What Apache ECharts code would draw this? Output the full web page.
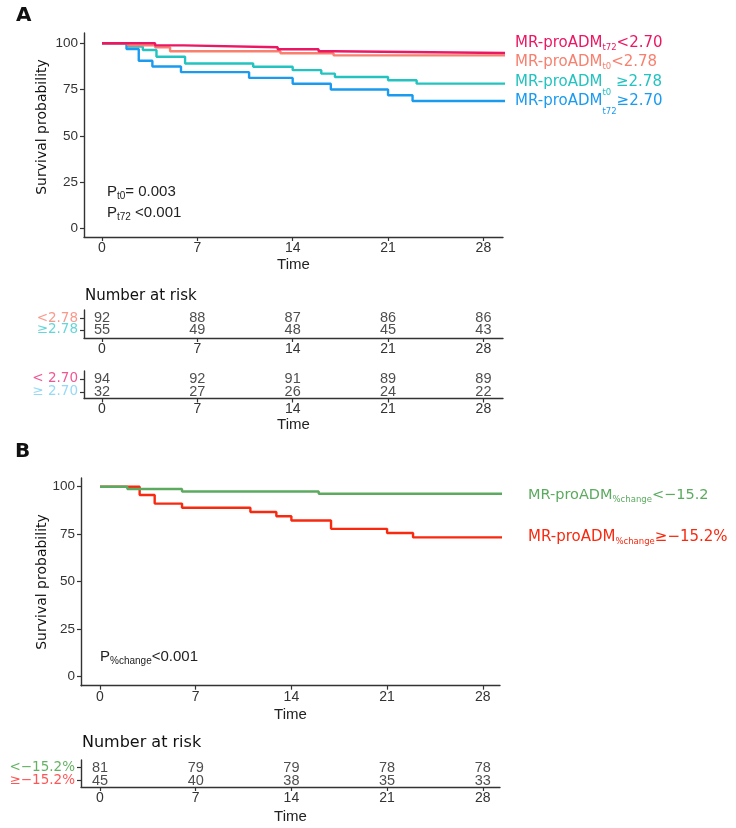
<!DOCTYPE html>
<html>
<head>
<meta charset="utf-8">
<script src="https://cdn.jsdelivr.net/npm/echarts@6/dist/echarts.min.js"></script>
<style>
  html, body { margin: 0; padding: 0; background: #fff; }
  #main { width: 736px; height: 828px; }
</style>
</head>
<body>
<div id="main"></div>
<script>
var dayTicks = [0, 7, 14, 21, 28];
var survTicks = [0, 25, 50, 75, 100];

// panel A: Kaplan-Meier steps (day, survival %)
var t72LowTime = [0, 3.9, 6.0, 12.9, 15.9, 17.0, 29.9];
var t72LowSurv = [100, 98.9, 97.9, 96.8, 95.7, 94.7, 94.7];
var t0LowTime = [0, 1.9, 3.9, 5.0, 13.1, 17.0, 29.9];
var t0LowSurv = [100, 98.9, 97.8, 95.7, 94.6, 93.5, 93.5];
var t0HighTime = [0, 1.9, 3.0, 4.0, 6.1, 11.1, 14.0, 16.1, 17.1, 21.0, 23.1, 29.9];
var t0HighSurv = [100, 98.2, 96.4, 92.7, 89.1, 87.3, 85.5, 83.6, 81.8, 80.0, 78.2, 78.2];
var t72HighTime = [0, 1.8, 2.7, 3.7, 5.8, 10.8, 14.0, 16.8, 21.0, 22.8, 29.8];
var t72HighSurv = [100, 96.9, 90.6, 87.5, 84.4, 81.3, 78.1, 75.0, 71.9, 68.8, 68.8];

// panel B
var pcLowTime = [0, 2.0, 6.0, 16.0, 30.9];
var pcLowSurv = [100, 98.8, 97.5, 96.3, 96.3];
var pcHighTime = [0, 2.9, 4.0, 6.0, 11.0, 12.9, 14.0, 16.9, 21.0, 22.9, 30.9];
var pcHighSurv = [100, 95.6, 91.1, 88.9, 86.7, 84.4, 82.2, 77.8, 75.6, 73.3, 73.3];

// number at risk
var riskT0Low = [92, 88, 87, 86, 86];
var riskT0High = [55, 49, 48, 45, 43];
var riskT72Low = [94, 92, 91, 89, 89];
var riskT72High = [32, 27, 26, 24, 22];
var riskPcLow = [81, 79, 79, 78, 78];
var riskPcHigh = [45, 40, 38, 35, 33];

var C = {
  t72Low: '#EC1763',
  t0Low: '#F8806F',
  t0High: '#22C3C0',
  t72High: '#1A9BF0',
  pcLow: '#5BAA5F',
  pcHigh: '#F8290F'
};

var chart = echarts.init(document.getElementById('main'));

function pairs(xs, ys) {
  return xs.map(function (x, i) { return [x, ys[i]]; });
}

function curve(name, xs, ys, color, grid) {
  return {
    name: name, type: 'line', step: 'end', xAxisIndex: grid, yAxisIndex: grid,
    data: pairs(xs, ys), symbol: 'none', clip: false, silent: true,
    lineStyle: { color: color, width: 2.4 }
  };
}

function riskRow(vals, row, grid) {
  return {
    type: 'scatter', xAxisIndex: grid, yAxisIndex: grid, symbolSize: 0, silent: true,
    data: dayTicks.map(function (d, i) { return [d, row, vals[i]]; }),
    label: {
      show: true, position: 'inside', formatter: function (p) { return p.value[2]; },
      fontFamily: 'Liberation Sans', fontSize: 14.5, color: '#222'
    }
  };
}

// strata names of a risk table, hung on the left edge of its grid
function riskNames(grid, xmin, topLab, botLab, topCol, botCol) {
  function item(row, text, col) {
    return {
      value: [xmin, row, text],
      label: { color: col }
    };
  }
  return {
    type: 'scatter', xAxisIndex: grid, yAxisIndex: grid, symbolSize: 0, silent: true,
    data: [item(2, topLab, topCol), item(1, botLab, botCol)],
    label: {
      show: true, position: 'left', distance: 6,
      formatter: function (p) { return p.value[2]; },
      fontFamily: 'DejaVu Sans', fontSize: 13.5
    }
  };
}

var axisLine = { show: true, onZero: false, lineStyle: { color: '#333', width: 1.4 } };
var tickStyle = { color: '#333', width: 1.2 };

function xAx(grid, min, max, gap) {
  var ax = {
    type: 'value', gridIndex: grid, min: min, max: max,
    axisLine: axisLine,
    axisTick: { show: true, length: 4, customValues: dayTicks, lineStyle: tickStyle },
    axisLabel: { customValues: dayTicks, fontFamily: 'Liberation Sans', fontSize: 14, color: '#333', margin: 4 },
    splitLine: { show: false }
  };
  if (gap) {
    ax.name = 'Time';
    ax.nameLocation = 'middle';
    ax.nameGap = gap;
    ax.nameTextStyle = { fontFamily: 'Liberation Sans', fontSize: 15, color: '#222' };
  }
  return ax;
}

function ySurv(grid, min, max) {
  return {
    type: 'value', gridIndex: grid, min: min, max: max,
    axisLine: axisLine,
    axisTick: { show: true, length: 4, customValues: survTicks, lineStyle: tickStyle },
    axisLabel: { customValues: survTicks, fontFamily: 'Liberation Sans', fontSize: 13.5, color: '#333', margin: 6 },
    splitLine: { show: false }
  };
}

function yRisk(grid, min, max) {
  return {
    type: 'value', gridIndex: grid, min: min, max: max,
    axisLine: axisLine,
    axisTick: { show: true, length: 4, customValues: [1, 2], lineStyle: tickStyle },
    axisLabel: { show: false },
    splitLine: { show: false }
  };
}

function legendText(x, y, text, color, deep, size) {
  var fs = size || 15;
  return {
    type: 'text', x: x, y: y, silent: true,
    style: {
      text: text, fill: color, verticalAlign: 'middle', align: 'left',
      font: fs + 'px "DejaVu Sans"',
      rich: {
        m: { fontFamily: 'DejaVu Sans', fontSize: fs, lineHeight: deep ? 30 : 18, verticalAlign: 'middle', fill: color },
        s: { fontFamily: 'DejaVu Sans', fontSize: 8.5, lineHeight: 10, verticalAlign: 'bottom', fill: color }
      }
    }
  };
}

function pText(x, y, text) {
  return {
    type: 'text', x: x, y: y, silent: true,
    style: {
      text: text, fill: '#222', verticalAlign: 'middle', align: 'left',
      rich: {
        m: { fontFamily: 'Liberation Sans', fontSize: 15, lineHeight: 18, verticalAlign: 'middle', fill: '#222' },
        s: { fontFamily: 'Liberation Sans', fontSize: 10, lineHeight: 10, verticalAlign: 'bottom', fill: '#222' }
      }
    }
  };
}

function plain(x, y, text, font, opts) {
  var o = { type: 'text', x: x, y: y, silent: true,
    style: { text: text, font: font, fill: '#111', verticalAlign: 'middle', align: (opts && opts.align) || 'left' } };
  if (opts && opts.rotation) o.rotation = opts.rotation;
  return o;
}

var option = {
  animation: false,
  backgroundColor: '#fff',
  grid: [
    { left: 84, top: 33, width: 419, height: 204 },
    { left: 84, top: 310, width: 419, height: 28 },
    { left: 84, top: 371, width: 419, height: 27.5 },
    { left: 81, top: 478, width: 419, height: 207.7 },
    { left: 81, top: 760, width: 419, height: 27 }
  ],
  xAxis: [
    xAx(0, -1.32, 29.44, 20),
    xAx(1, -1.32, 29.44, 0),
    xAx(2, -1.32, 29.44, 19),
    xAx(3, -1.39, 29.26, 22),
    xAx(4, -1.39, 29.26, 22)
  ],
  yAxis: [
    ySurv(0, -4.7, 105.57),
    yRisk(1, 0.333, 2.667),
    yRisk(2, 0.5, 2.6),
    ySurv(3, -4.84, 104.58),
    yRisk(4, 0.5, 2.6)
  ],
  series: [
    curve('t0 ≥2.78', t0HighTime, t0HighSurv, C.t0High, 0),
    curve('t72 ≥2.70', t72HighTime, t72HighSurv, C.t72High, 0),
    curve('t0 <2.78', t0LowTime, t0LowSurv, C.t0Low, 0),
    curve('t72 <2.70', t72LowTime, t72LowSurv, C.t72Low, 0),
    riskRow(riskT0Low, 2, 1),
    riskRow(riskT0High, 1, 1),
    riskNames(1, -1.32, '<2.78', '≥2.78', '#F8806F', '#3CCCD0'),
    riskRow(riskT72Low, 2, 2),
    riskRow(riskT72High, 1, 2),
    riskNames(2, -1.32, '< 2.70', '≥ 2.70', '#EE2A78', '#7CCFF5'),
    curve('%change ≥−15.2%', pcHighTime, pcHighSurv, C.pcHigh, 3),
    curve('%change <−15.2', pcLowTime, pcLowSurv, C.pcLow, 3),
    riskRow(riskPcLow, 2, 4),
    riskRow(riskPcHigh, 1, 4),
    riskNames(4, -1.39, '<−15.2%', '≥−15.2%', '#3C9F3C', '#FF2B2B')
  ],
  graphic: [
    plain(16, 16, 'A', 'bold 20px "DejaVu Sans"'),
    plain(15, 452, 'B', 'bold 20px "DejaVu Sans"'),
    plain(42, 127, 'Survival probability', '14px "DejaVu Sans"', { align: 'center', rotation: Math.PI / 2 }),
    plain(42, 582, 'Survival probability', '14px "DejaVu Sans"', { align: 'center', rotation: Math.PI / 2 }),
    plain(85, 296, 'Number at risk', '15px "DejaVu Sans"'),
    plain(82, 743, 'Number at risk', '16px "DejaVu Sans"'),
    legendText(515, 43, '{m|MR-proADM}{s|t72}{m|<2.70}', C.t72Low, false),
    legendText(515, 62, '{m|MR-proADM}{s|t0}{m|<2.78}', C.t0Low, false),
    legendText(515, 82, '{m|MR-proADM}{s|t0}{m| ≥2.78}', C.t0High, true),
    legendText(515, 101, '{m|MR-proADM}{s|t72}{m|≥2.70}', C.t72High, true),
    legendText(528, 495, '{m|MR-proADM}{s|%change}{m|<−15.2}', C.pcLow, false, 14.5),
    legendText(528, 537, '{m|MR-proADM}{s|%change}{m|≥−15.2%}', C.pcHigh, false, 15),
    pText(107, 192, '{m|P}{s|t0}{m|= 0.003}'),
    pText(107, 213, '{m|P}{s|t72}{m| <0.001}'),
    pText(100, 657, '{m|P}{s|%change}{m|<0.001}')
  ]
};

chart.setOption(option);
</script>
</body>
</html>
